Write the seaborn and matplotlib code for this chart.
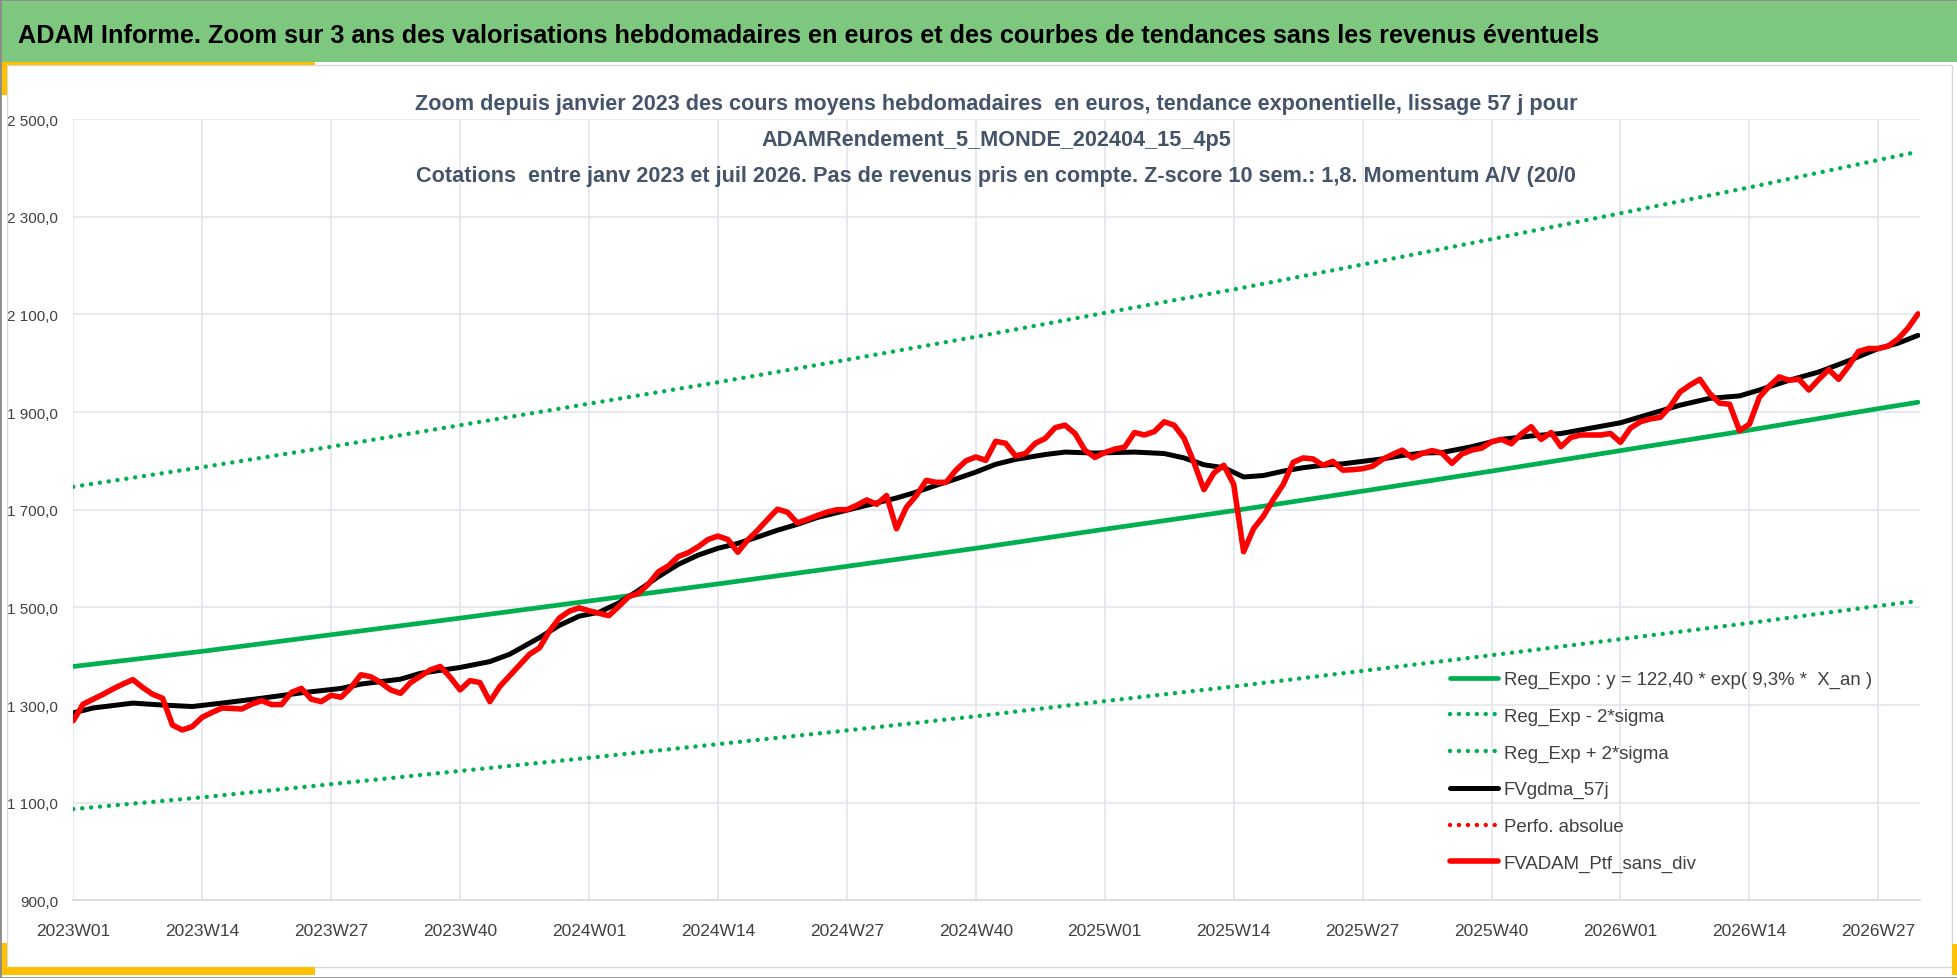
import matplotlib
matplotlib.use('Agg')
import matplotlib.pyplot as plt
from matplotlib.patches import Rectangle
from matplotlib.ticker import FixedLocator, FuncFormatter
from matplotlib import font_manager
import numpy as np
import pandas as pd
import seaborn as sns

# --- data (week index 0 = 2023W01) ---
ptf_sans_div = [
    1268, 1302, 1312, 1322, 1333, 1343, 1352, 1336, 1322, 1314,
    1259, 1249, 1256, 1275, 1285, 1294, 1293, 1292, 1302, 1309,
    1301, 1301, 1326, 1334, 1312, 1307, 1320, 1316, 1336, 1362,
    1358, 1346, 1331, 1324, 1346, 1359, 1372, 1379, 1357, 1331,
    1350, 1346, 1307, 1338, 1360, 1382, 1404, 1417, 1451, 1478,
    1492, 1499, 1493, 1488, 1483, 1502, 1522, 1529, 1548, 1573,
    1585, 1604, 1612, 1624, 1639, 1646, 1639, 1613, 1638, 1658,
    1680, 1701, 1695, 1673, 1680, 1688, 1695, 1700, 1700, 1709,
    1720, 1711, 1729, 1661, 1705, 1729, 1760, 1756, 1756, 1781,
    1800, 1808, 1801, 1840, 1836, 1810, 1815, 1836, 1846, 1868,
    1873, 1856, 1822, 1807, 1817, 1824, 1828, 1858, 1853, 1860,
    1880, 1873, 1846, 1796, 1741, 1775, 1791, 1752, 1614, 1661,
    1687, 1721, 1752, 1797, 1806, 1804, 1791, 1799, 1781, 1782,
    1784, 1789, 1803, 1813, 1822, 1806, 1815, 1821, 1816, 1795,
    1814, 1822, 1826, 1839, 1844, 1835, 1855, 1870, 1844, 1858,
    1829, 1848, 1853, 1853, 1853, 1856, 1838, 1867, 1880, 1886,
    1889, 1911, 1941, 1955, 1967, 1938, 1918, 1916, 1862, 1875,
    1930, 1953, 1972, 1965, 1967, 1945, 1967, 1987, 1967, 1994,
    2024, 2030, 2030, 2035, 2050, 2072, 2101,
]

gdma_weeks = [0, 2, 6, 9, 12, 15, 19, 23, 27, 29, 33, 35, 39, 42, 44, 47, 49, 51,
              53, 55, 57, 59, 61, 63, 65, 67, 69, 71, 73, 75, 77, 79, 81, 83, 85,
              87, 89, 91, 93, 95, 98, 100, 103, 107, 110, 112, 114, 116, 118, 120,
              122, 124, 126, 128, 130, 132, 134, 136, 138, 141, 144, 147, 150, 153,
              156, 159, 162, 165, 168, 170, 173, 176, 179, 182, 184, 186]
gdma_57j = [1284, 1294, 1304, 1300, 1297, 1304, 1314, 1325, 1334, 1343, 1353, 1365,
            1377, 1389, 1404, 1438, 1463, 1482, 1490, 1509, 1535, 1563, 1588, 1607,
            1621, 1631, 1644, 1658, 1670, 1684, 1694, 1704, 1714, 1724, 1736, 1750,
            1763, 1777, 1793, 1803, 1813, 1818, 1816, 1818, 1815, 1806, 1792, 1786,
            1767, 1770, 1779, 1786, 1791, 1794, 1799, 1804, 1811, 1816, 1817, 1829,
            1844, 1851, 1856, 1867, 1878, 1896, 1914, 1928, 1933, 1945, 1965, 1982,
            2005, 2030, 2041, 2057]

reg_weeks = [0, 13, 26, 39, 52, 65, 78, 91, 104, 117, 130, 143, 156, 169, 182, 186]
reg_expo = [1379, 1410, 1444, 1478, 1513, 1548, 1584, 1621, 1660, 1698, 1738, 1779,
            1821, 1863, 1907, 1920]
reg_moins_2s = [1087, 1111, 1138, 1165, 1192, 1220, 1248, 1277, 1308, 1338, 1370,
                1402, 1435, 1468, 1503, 1513]
reg_plus_2s = [1747, 1787, 1829, 1873, 1917, 1961, 2007, 2054, 2103, 2151, 2202,
               2254, 2307, 2360, 2416, 2433]

week_labels = ['2023W01', '2023W14', '2023W27', '2023W40', '2024W01', '2024W14',
               '2024W27', '2024W40', '2025W01', '2025W14', '2025W27', '2025W40',
               '2026W01', '2026W14', '2026W27']
y_ticks = [900, 1100, 1300, 1500, 1700, 1900, 2100, 2300, 2500]

titre = ("ADAM Informe. Zoom sur 3 ans des valorisations hebdomadaires en euros "
         "et des courbes de tendances sans les revenus éventuels")
sous_titre = [
    "Zoom depuis janvier 2023 des cours moyens hebdomadaires  en euros, tendance exponentielle, lissage 57 j pour",
    "ADAMRendement_5_MONDE_202404_15_4p5",
    "Cotations  entre janv 2023 et juil 2026. Pas de revenus pris en compte. Z-score 10 sem.: 1,8. Momentum A/V (20/0",
]

ptf = pd.DataFrame({'semaine': range(len(ptf_sans_div)), 'valeur': ptf_sans_div})
gdma = pd.DataFrame({'semaine': gdma_weeks, 'valeur': gdma_57j})
reg = pd.DataFrame({'semaine': reg_weeks, 'expo': reg_expo,
                    'bas': reg_moins_2s, 'haut': reg_plus_2s})

# --- style ---
sns.set_theme(style='white')
names = {f.name for f in font_manager.fontManager.ttflist}
main_font = ['Liberation Sans', 'DejaVu Sans']
tick_font = ['Liberation Sans Narrow'] + main_font if 'Liberation Sans Narrow' in names else main_font
plt.rcParams['font.family'] = main_font

W, H = 1958, 979
fig = plt.figure(figsize=(W / 100, H / 100), dpi=100)
fig.patch.set_facecolor('white')

def fx(px):
    return px / W

def fy(py):
    return 1 - py / H

# frame, banner and yellow accents
fig.patches.append(Rectangle((fx(7), fy(968)), fx(1952) - fx(7), fy(66) - fy(968),
                             transform=fig.transFigure, fill=False, ec='#D9D9D9', lw=1))
fig.patches.append(Rectangle((0, fy(63)), 1, 1 - fy(63), transform=fig.transFigure,
                             fc='#7DC87E', ec='none'))
yellow = '#FFC000'
for (x0, y0, x1, y1) in [(0, 63, 315, 66), (0, 66, 7, 96), (0, 968, 315, 976),
                         (0, 944, 7, 976), (1952, 945, 1957, 976)]:
    fig.patches.append(Rectangle((fx(x0), fy(y1)), fx(x1) - fx(x0), fy(y0) - fy(y1),
                                 transform=fig.transFigure, fc=yellow, ec='none'))
fig.patches.append(Rectangle((0, 0), 1, 1, transform=fig.transFigure, fill=False,
                             ec='#8C8C8C', lw=2))

ax = fig.add_axes([fx(73.3), fy(901.4), fx(1920) - fx(73.3), fy(120) - fy(901.4)])
ax.set_facecolor('none')

green = '#00B050'
dots = (0, (0.01, 2.0))
sns.lineplot(data=reg, x='semaine', y='expo', ax=ax, color=green, lw=3.4,
             label='Reg_Expo : y = 122,40 * exp( 9,3% *  X_an )')
sns.lineplot(data=reg, x='semaine', y='bas', ax=ax, color=green, lw=3.2,
             linestyle=dots, dash_capstyle='round', label='Reg_Exp - 2*sigma')
sns.lineplot(data=reg, x='semaine', y='haut', ax=ax, color=green, lw=3.2,
             linestyle=dots, dash_capstyle='round', label='Reg_Exp + 2*sigma')
sns.lineplot(data=gdma, x='semaine', y='valeur', ax=ax, color='black', lw=3.6,
             label='FVgdma_57j')
ax.plot([], [], color='#FF0000', lw=3.2, linestyle=dots, dash_capstyle='round',
        label='Perfo. absolue')
sns.lineplot(data=ptf, x='semaine', y='valeur', ax=ax, color='#FF0000', lw=4.0,
             label='FVADAM_Ptf_sans_div')

ax.set_xlim(0, 186.2)
ax.set_ylim(900, 2500)
ax.set_xlabel('')
ax.set_ylabel('')

grid_col = '#E0E3E9'
ax.xaxis.set_major_locator(FixedLocator(list(range(0, 183, 13))))
ax.xaxis.set_minor_locator(FixedLocator([6.5 + 13 * k for k in range(15)]))
ax.set_xticklabels(week_labels)
ax.yaxis.set_major_locator(FixedLocator(y_ticks))
ax.yaxis.set_major_formatter(FuncFormatter(
    lambda v, p: f"{v:,.1f}".replace(',', ' ').replace('.', ',')))
ax.grid(True, which='major', color=grid_col, lw=1.1)
ax.set_axisbelow(True)
for s in ['top', 'right', 'left']:
    ax.spines[s].set_visible(False)
ax.spines['bottom'].set_color('#D6DAE1')
ax.spines['bottom'].set_linewidth(1.2)
ax.tick_params(axis='x', which='major', length=0, pad=16, labelsize=12.5, labelcolor='#404040')
ax.tick_params(axis='x', which='minor', length=3, direction='in', color='#D6DAE1', width=1)
ax.tick_params(axis='y', length=0, pad=11, labelsize=11, labelcolor='#404040')
for lab in ax.get_xticklabels() + ax.get_yticklabels():
    lab.set_family(tick_font)

leg = ax.legend(loc='upper left', bbox_to_anchor=(fx(1450), fy(672)),
                bbox_transform=fig.transFigure, frameon=False, fontsize=13.4,
                borderpad=0, borderaxespad=0, handlelength=2.6, handletextpad=0.3,
                labelspacing=1.05)
for t in leg.get_texts():
    t.set_color('#404040')

# titles
renderer = fig.canvas.get_renderer()

def fit(txt, width_px):
    w = txt.get_window_extent(renderer).width
    txt.set_fontsize(txt.get_fontsize() * width_px / w)

t = fig.text(fx(18), fy(43), titre, ha='left', va='baseline', fontsize=20,
             fontweight='bold', color='black')
fit(t, 1580)

sub_col = '#44546A'
baselines = [110, 146, 182]
subs = [fig.text(fx(996), fy(b), s, ha='center', va='baseline', fontsize=17,
                 fontweight='bold', color=sub_col) for s, b in zip(sous_titre, baselines)]
fit(subs[0], 1164)
for s in subs[1:]:
    s.set_fontsize(subs[0].get_fontsize())

fig.savefig('out.png', dpi=100)
